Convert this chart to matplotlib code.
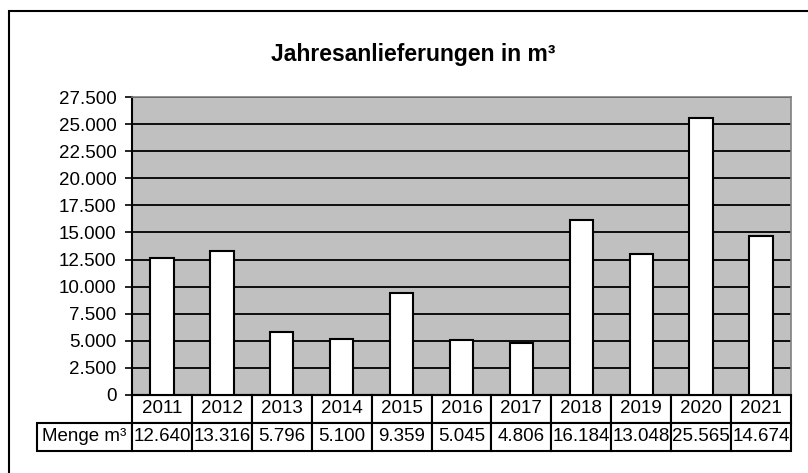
import matplotlib
matplotlib.use('Agg')
import matplotlib.pyplot as plt
from matplotlib.patches import Rectangle

plt.rcParams['font.family'] = ['Liberation Sans', 'DejaVu Sans']

# data
years = ['2011', '2012', '2013', '2014', '2015', '2016', '2017', '2018', '2019', '2020', '2021']
mengen = [12640, 13316, 5796, 5100, 9359, 5045, 4806, 16184, 13048, 25565, 14674]
row_label = 'Menge m³'
title = 'Jahresanlieferungen in m³'
y_ticks = [0, 2500, 5000, 7500, 10000, 12500, 15000, 17500, 20000, 22500, 25000, 27500]


def de_fmt(v):
    return f'{v:,.0f}'.replace(',', '.')


W, H = 808, 473
fig = plt.figure(figsize=(W / 100, H / 100), dpi=100)

# plot area in pixels
left, right, top, bottom = 132, 791, 97.5, 394.5
ax = fig.add_axes([left / W, 1 - bottom / H, (right - left) / W, (bottom - top) / H])
ax.set_facecolor('#C0C0C0')

x = list(range(len(years)))
ax.bar(x, mengen, width=0.39, color='white', edgecolor='black', linewidth=1.5, zorder=3)

ax.set_xlim(-0.5, len(years) - 0.5)
ax.set_ylim(0, 27500)
ax.set_yticks(y_ticks)
ax.set_yticklabels([de_fmt(v) for v in y_ticks])
ax.set_xticks([])
ax.tick_params(axis='y', length=5, width=1.2, labelsize=13.5, pad=6, colors='black')
ax.yaxis.grid(True, color='black', linewidth=1.3)
ax.set_axisbelow(True)

for s in ['top', 'right']:
    ax.spines[s].set_color('#808080')
    ax.spines[s].set_linewidth(1.2)
for s in ['left', 'bottom']:
    ax.spines[s].set_color('black')
    ax.spines[s].set_linewidth(1.5)

# data table below the plot
ax_w = right - left
ax_h = bottom - top
lab_w = (left - 37) / ax_w
tbl_h = 56 / ax_h
cell_text = [[''] + years, [row_label] + [de_fmt(v) for v in mengen]]
col_w = [lab_w] + [1 / len(years)] * len(years)
tbl = ax.table(cellText=cell_text, colWidths=col_w, cellLoc='center',
               bbox=[-lab_w, -tbl_h, 1 + lab_w, tbl_h])
tbl.auto_set_font_size(False)
tbl.set_fontsize(13.5)
for (r, c), cell in tbl.get_celld().items():
    cell.set_linewidth(1.5)
    cell.set_edgecolor('black')
    cell.set_facecolor('white')
    cell.PAD = 0.02
tbl[0, 0].visible_edges = 'open'

# title
fig.text(413 / W, 1 - 61.5 / H, title, ha='center', va='baseline',
         fontsize=16.5, fontweight='bold')

# chart border
fig.add_artist(Rectangle((9 / W, -0.1), 1.2, 1.1 - 11.5 / H, transform=fig.transFigure,
                         fill=False, edgecolor='black', linewidth=1.5, clip_on=False))

fig.savefig('out.png', dpi=100)
